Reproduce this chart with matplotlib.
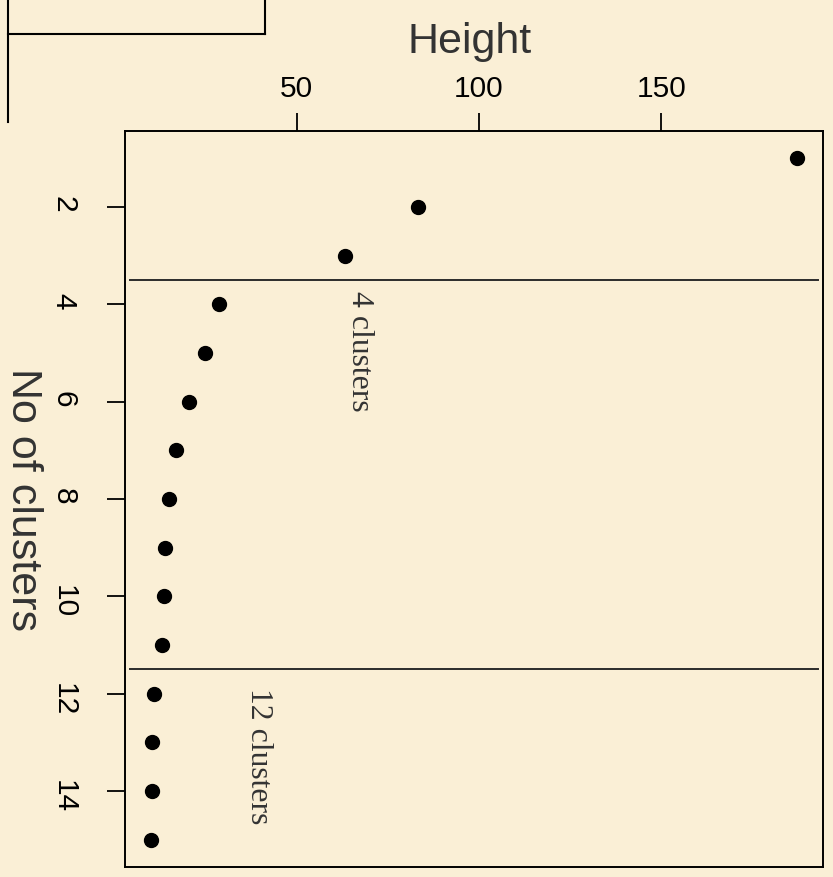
import matplotlib

matplotlib.use("Agg")
import matplotlib.pyplot as plt
from matplotlib.lines import Line2D


PAPER = "#FAEFD6"
INK = "#000000"
LABEL = "#333333"
RULE = "#2B2B2B"

# dendrogram merge heights, one per number of clusters
n_clusters = list(range(1, 16))
heights = [187.3, 83.4, 63.2, 28.6, 24.8, 20.4, 16.8, 15.0, 13.8, 13.6, 13.0, 10.8, 10.3, 10.3, 10.0]
x_ticks = [50, 100, 150]
y_ticks = [2, 4, 6, 8, 10, 12, 14]
cuts = [3.5, 11.5]
cut_labels = ["4 clusters", "12 clusters"]
cut_label_x = [63.2, 35.5]
cut_label_y = [3.72, 11.88]

W, H = 833, 877


def padded(lo, hi, frac=0.04):
    pad = (hi - lo) * frac
    return lo - pad, hi + pad


def px(x, y):
    # figure pixel (from top-left) -> figure fraction
    return x / W, 1 - y / H


def main() -> None:
    plt.rcParams.update({"font.family": ["Liberation Sans", "DejaVu Sans"]})
    fig = plt.figure(figsize=(W / 100, H / 100), dpi=100, facecolor=PAPER)
    ax = fig.add_axes([125 / W, 10 / H, 698 / W, 736 / H])
    ax.set_facecolor("none")

    ax.plot(heights, n_clusters, "o", color=INK, markersize=10, zorder=3)

    ax.set_xlim(*padded(min(heights), max(heights)))
    lo, hi = padded(min(n_clusters), max(n_clusters))
    ax.set_ylim(hi, lo)

    for y, text, tx, ty in zip(cuts, cut_labels, cut_label_x, cut_label_y):
        ax.axhline(y, xmin=5 / 698, xmax=693 / 698, color=RULE, linewidth=1.4)
        ax.text(tx, ty, text, rotation=-90, ha="left", va="top",
                family=["Liberation Serif", "DejaVu Serif"], fontsize=22.9, color=LABEL)

    ax.xaxis.tick_top()
    ax.set_xticks(x_ticks)
    ax.set_yticks(y_ticks)
    ax.tick_params(axis="both", length=12.8, width=1.3, color=INK,
                   labelsize=21.5, labelcolor=INK)
    ax.tick_params(axis="x", pad=7.5)
    ax.tick_params(axis="y", pad=21.5)
    for lab in ax.get_yticklabels():
        lab.set_rotation(-90)
    for spine in ax.spines.values():
        spine.set_linewidth(1.4)
        spine.set_color(INK)

    ax.xaxis.set_label_position("top")
    ax.set_xlabel("Height", fontsize=31, color=LABEL, va="baseline")
    ax.xaxis.set_label_coords(0.494, (867 - 53) / 736)
    ax.set_ylabel("No of clusters", fontsize=31, color=LABEL, rotation=-90, va="top")
    ax.yaxis.set_label_coords((43 - 125) / 698, 0.5)

    # edge of the tree panel above
    for xs, ys in [((8, 8), (0, 122)), ((8, 265), (34, 34)), ((265, 265), (0, 34))]:
        (x0, y0), (x1, y1) = px(xs[0], ys[0]), px(xs[1], ys[1])
        fig.add_artist(Line2D([x0, x1], [y0, y1], transform=fig.transFigure,
                              color=INK, linewidth=1.5))

    fig.savefig("out.png", dpi=100, facecolor=PAPER)
    plt.close(fig)


if __name__ == "__main__":
    main()
